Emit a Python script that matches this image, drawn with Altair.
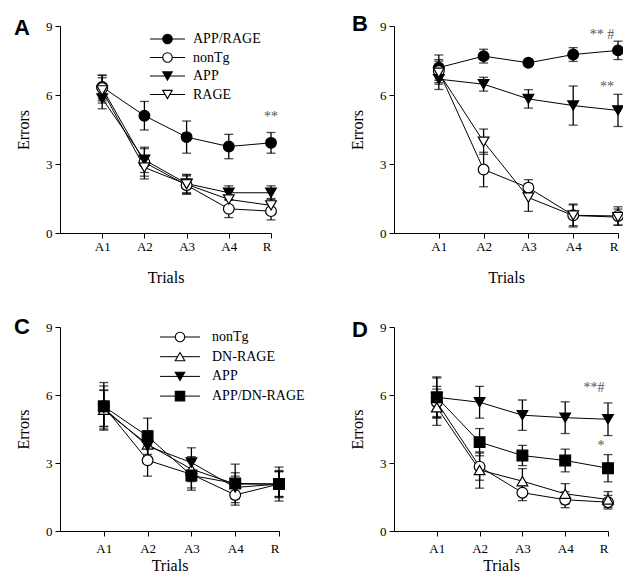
import json
import altair as alt
import pandas as pd

trials = ["A1", "A2", "A3", "A4", "R"]

# ---------------- Panel A ----------------
a_series = ["APP/RAGE", "nonTg", "APP", "RAGE"]
a_app_rage = [6.35, 5.10, 4.17, 3.76, 3.92]
a_app_rage_err = [0.52, 0.62, 0.70, 0.53, 0.45]
a_nontg = [6.30, 3.07, 2.08, 1.05, 0.95]
a_nontg_err = [0.55, 0.60, 0.40, 0.38, 0.38]
a_app = [5.85, 3.18, 2.15, 1.75, 1.75]
a_app_err = [0.45, 0.55, 0.40, 0.30, 0.30]
a_rage = [6.20, 2.85, 2.12, 1.46, 1.20]
a_rage_err = [0.55, 0.50, 0.40, 0.35, 0.30]

# ---------------- Panel B ----------------
b_series = ["APP/RAGE", "nonTg", "APP", "RAGE"]
b_app_rage = [7.19, 7.69, 7.40, 7.76, 7.94]
b_app_rage_err = [0.55, 0.30, 0.15, 0.30, 0.40]
b_nontg = [7.04, 2.76, 1.97, 0.77, 0.74]
b_nontg_err = [0.50, 0.75, 0.35, 0.45, 0.40]
b_app = [6.69, 6.47, 5.83, 5.54, 5.33]
b_app_err = [0.45, 0.30, 0.40, 0.85, 0.70]
b_rage = [6.97, 3.97, 1.54, 0.76, 0.69]
b_rage_err = [0.50, 0.55, 0.60, 0.50, 0.35]

# ---------------- Panel C ----------------
c_series = ["nonTg", "DN-RAGE", "APP", "APP/DN-RAGE"]
c_nontg = [5.50, 3.12, 2.50, 1.59, 2.07]
c_nontg_err = [0.90, 0.70, 0.60, 0.45, 0.55]
c_dn_rage = [5.35, 3.82, 2.73, 2.07, 2.07]
c_dn_rage_err = [0.85, 0.60, 0.55, 0.50, 0.60]
c_app = [5.42, 3.75, 3.02, 1.92, 2.07]
c_app_err = [0.80, 0.55, 0.65, 0.50, 0.55]
c_app_dn_rage = [5.50, 4.18, 2.45, 2.10, 2.07]
c_app_dn_rage_err = [1.05, 0.80, 0.65, 0.85, 0.75]

# ---------------- Panel D ----------------
d_series = ["nonTg", "DN-RAGE", "APP", "APP/DN-RAGE"]
d_nontg = [5.68, 2.84, 1.69, 1.38, 1.27]
d_nontg_err = [0.70, 0.60, 0.35, 0.35, 0.30]
d_dn_rage = [5.46, 2.69, 2.20, 1.64, 1.39]
d_dn_rage_err = [0.80, 0.80, 0.55, 0.45, 0.35]
d_app = [5.90, 5.68, 5.11, 5.00, 4.93]
d_app_err = [0.90, 0.70, 0.67, 0.70, 0.72]
d_app_dn_rage = [5.90, 3.92, 3.33, 3.11, 2.77]
d_app_dn_rage_err = [0.85, 0.60, 0.45, 0.50, 0.60]

# significance marks: (text, y level in Errors units)
a_marks = [("**", 5.05)]
b_marks = [("** #", 8.59), ("**", 6.33)]
c_marks = []
d_marks = [("**#", 6.31), ("*", 3.74)]

# ---------------- styles ----------------
SHAPES = {
    "APP/RAGE": ("circle", "black"),
    "nonTg": ("circle", "white"),
    "APP": ("triangle-down", "black"),
    "RAGE": ("triangle-down", "white"),
    "DN-RAGE": ("triangle-up", "white"),
    "APP/DN-RAGE": ("square", "black"),
}
SERIF = "Liberation Serif"
SANS = "Liberation Sans"
label_expr = "[''," + ",".join(json.dumps(t) for t in trials) + "][datum.value]"

AXIS_STYLE = dict(grid=False, domainColor="black", domainWidth=1, tickColor="black",
                  tickWidth=1, tickSize=5, labelColor="black", titleColor="black",
                  labelFont=SERIF, titleFont=SERIF, labelFontSize=13, titleFontSize=16,
                  titleFontWeight="normal")


def x_enc(xpad, field="x"):
    lp, tp = xpad
    return alt.X(
        f"{field}:Q",
        scale=alt.Scale(domain=[0, 5], nice=False, zero=False),
        axis=alt.Axis(values=[1, 2, 3, 4, 5], labelExpr=label_expr, title="Trials",
                      labelPadding=lp, titlePadding=tp, **AXIS_STYLE),
        title="Trials",
    )


def y_enc(field):
    return alt.Y(
        f"{field}:Q",
        scale=alt.Scale(domain=[0, 9], nice=False),
        axis=alt.Axis(values=[0, 3, 6, 9], title="Errors", labelPadding=3, titlePadding=14,
                      **AXIS_STYLE),
        title="Errors",
    )


def panel(letter, letter_pos, names, means, errs, width, height, legend, marks, mark_dx, xpad):
    rows = []
    for n, m, e in zip(names, means, errs):
        for i, t in enumerate(trials):
            rows.append(dict(series=n, trial=t, x=i + 1, y=m[i], lo=m[i] - e[i], hi=m[i] + e[i],
                             shp=SHAPES[n][0], fil=SHAPES[n][1]))
    df = pd.DataFrame(rows)
    X = x_enc(xpad)

    base = alt.Chart(df)
    bars = base.mark_rule(color="black", strokeWidth=1.3).encode(
        x=X, y=y_enc("lo"), y2="hi:Q")
    cap_lo = base.mark_tick(color="black", orient="horizontal", size=9, thickness=1.3).encode(
        x=X, y=y_enc("lo"))
    cap_hi = base.mark_tick(color="black", orient="horizontal", size=9, thickness=1.3).encode(
        x=X, y=y_enc("hi"))
    lines = base.mark_line(color="black", strokeWidth=1).encode(
        x=X, y=y_enc("y"), detail="series:N")
    pts = base.mark_point(filled=True, stroke="black", strokeWidth=1.2, size=115, opacity=1).encode(
        x=X, y=y_enc("y"),
        shape=alt.Shape("shp:N", scale=None, legend=None),
        fill=alt.Fill("fil:N", scale=None, legend=None),
    )
    layers = [bars, cap_lo, cap_hi, lines, pts]

    if legend is not None:
        lx0, lx1, lxt, ly0, ldy = legend
        ldf = pd.DataFrame({"series": names, "idx": list(range(len(names))),
                            "shp": [SHAPES[n][0] for n in names],
                            "fil": [SHAPES[n][1] for n in names]})
        lbase = alt.Chart(ldf).transform_calculate(ly=f"{ly0} + datum.idx * {ldy}")
        ly = alt.Y("ly:Q", scale=None, axis=None)
        layers.append(lbase.mark_rule(color="black", strokeWidth=1).encode(
            x=alt.value(lx0), x2=alt.value(lx1), y=ly))
        layers.append(lbase.mark_point(filled=True, stroke="black", strokeWidth=1.1, size=90,
                                       opacity=1).encode(
            x=alt.value((lx0 + lx1) / 2), y=ly,
            shape=alt.Shape("shp:N", scale=None, legend=None),
            fill=alt.Fill("fil:N", scale=None, legend=None)))
        layers.append(lbase.mark_text(align="left", baseline="middle", font=SERIF,
                                      fontSize=14, color="black").encode(
            x=alt.value(lxt), y=ly, text="series:N"))

    for (txt, lvl), dx in zip(marks, mark_dx):
        mdf = pd.DataFrame({"x": [5], "y": [lvl], "t": [txt]})
        layers.append(alt.Chart(mdf).mark_text(font=SERIF, fontSize=14, color="#555555",
                                               baseline="middle", dx=dx).encode(
            x=X, y=y_enc("y"), text="t:N"))

    ldf2 = pd.DataFrame({"t": [letter]})
    layers.append(alt.Chart(ldf2).mark_text(font=SANS, fontWeight="bold", fontSize=22,
                                            color="black", align="center",
                                            baseline="middle").encode(
        x=alt.value(letter_pos[0]), y=alt.value(letter_pos[1]), text="t:N"))

    return alt.layer(*layers).properties(width=width, height=height)


ROW1_X = (2, 16)
ROW2_X = (6, 2)

pA = panel("A", (-38, 2), a_series, [a_app_rage, a_nontg, a_app, a_rage],
           [a_app_rage_err, a_nontg_err, a_app_err, a_rage_err], 211, 207,
           (90, 125, 133, 13, 18.5), a_marks, [0], ROW1_X)
pB = panel("B", (-34, -2), b_series, [b_app_rage, b_nontg, b_app, b_rage],
           [b_app_rage_err, b_nontg_err, b_app_err, b_rage_err], 224, 207,
           None, b_marks, [-16, -11], ROW1_X)
pC = panel("C", (-38, 0), c_series, [c_nontg, c_dn_rage, c_app, c_app_dn_rage],
           [c_nontg_err, c_dn_rage_err, c_app_err, c_app_dn_rage_err], 219, 204,
           (100, 140, 152, 10, 19.7), c_marks, [], ROW2_X)
pD = panel("D", (-34, 3), d_series, [d_nontg, d_dn_rage, d_app, d_app_dn_rage],
           [d_nontg_err, d_dn_rage_err, d_app_err, d_app_dn_rage_err], 214, 204,
           None, d_marks, [-14, -7], ROW2_X)

chart = alt.concat(pA, pB, pC, pD, columns=2, bounds="flush", align="each",
                   spacing={"row": 94, "column": 115}).properties(
    autosize=alt.AutoSizeParams(type="none"),
    padding={"left": 52, "top": 18, "right": 563, "bottom": 547},
).configure_view(stroke=None)

chart.save("out.html", embed_options={"renderer": "svg", "actions": False})
